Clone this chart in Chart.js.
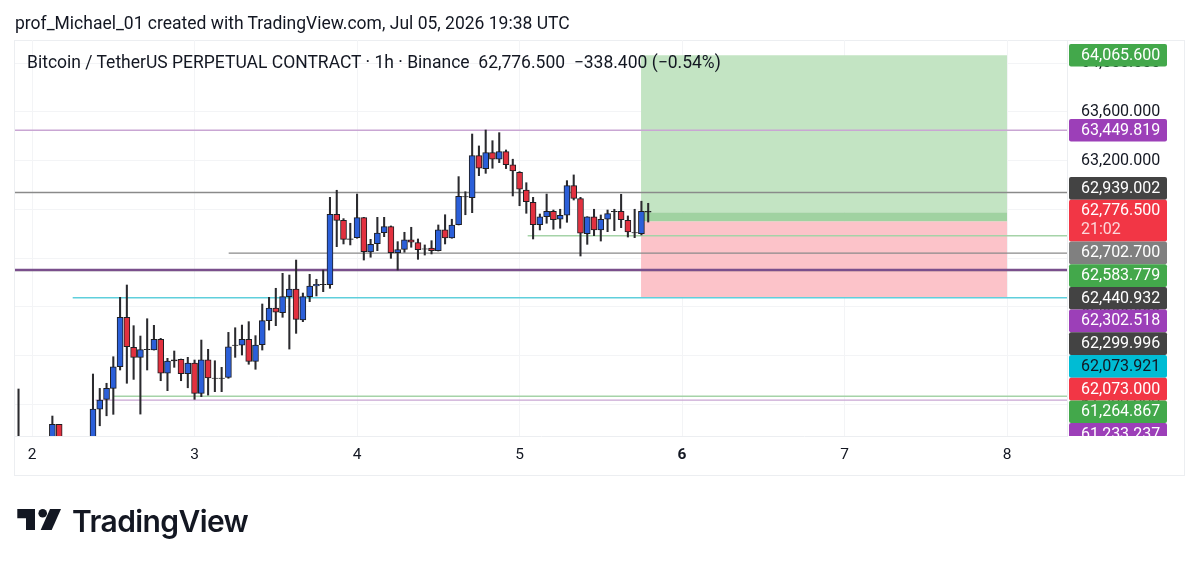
<!DOCTYPE html>
<html>
<head>
<meta charset="utf-8">
<title>BTCUSDT.P 1h</title>
<script src="https://cdn.jsdelivr.net/npm/chart.js@4"></script>
<style>
  html, body { margin: 0; padding: 0; background: #fff; overflow: hidden; }
  #stage { position: relative; width: 1200px; height: 564px; font-family: Roboto, sans-serif; color: #131722; }
  #chart { position: absolute; left: 0; top: 0; }
  .txt { position: absolute; white-space: pre; font-size: 17.5px; line-height: 20px; }
  #frame { position: absolute; left: 14px; top: 40px; width: 1171px; height: 436px; border: 1px solid #eceef1; box-sizing: border-box; }
  #brand { left: 72px; top: 502px; font: 600 30px/38px Inter, Roboto, sans-serif; letter-spacing: -0.6px; color: #131722; }
</style>
</head>
<body>
<div id="stage">
  <div id="frame"></div>
  <canvas id="chart" width="1200" height="564"></canvas>
  <div class="txt" style="left:15px;top:13px">prof_Michael_01 created with TradingView.com, Jul 05, 2026 19:38 UTC</div>
  <div class="txt" style="left:27px;top:52px">Bitcoin / TetherUS PERPETUAL CONTRACT · 1h · Binance  62,776.500  −338.400 (−0.54%)</div>
  <svg style="position:absolute;left:17px;top:508px" width="46" height="25" viewBox="0 0 46 25">
    <path d="M0.3 1H18V22H9V10.3H0.3z" fill="#131722"/>
    <circle cx="25.7" cy="5.3" r="4.3" fill="#131722"/>
    <path d="M33 1H44L34.7 22H23.7z" fill="#131722"/>
  </svg>
  <div class="txt" id="brand">TradingView</div>
</div>
<script>
// hourly candles, first one is 2 hours before day 2 00:00
const firstHour = -2;
const opens = [60700,60720,60710,60730,60740,60850,61035,60800,60780,60760,60790,60890,61160,61240,61330,61508,61914,61667,61585,61648,61645,61733,61454,61555,61569,61450,61538,61289,61565,61415,61411,61421,61682,61684,61733,61552,61689,61886,61990,61952,62083,62146,61892,62083,62171,62185,62181,62760,62710,62554,62568,62732,62450,62518,62609,62658,62444,62472,62549,62527,62477,62483,62461,62633,62565,62674,62902,62896,63241,63135,63266,63212,63274,63165,63105,62959,62858,62674,62740,62784,62719,62752,62995,62888,62600,62738,62631,62719,62781,62784,62710,62606,62600,62784];
const highs = [61325,60780,60770,60790,60800,61103,61035,60860,60840,60830,60850,61448,61330,61372,61590,62078,62179,61845,61760,61902,61848,61741,61577,61637,61571,61585,61563,61727,61651,61557,61503,61790,61828,61850,61878,61763,62023,62078,62152,62275,62261,62384,62113,62267,62226,62302,62899,62957,62724,62686,62926,62735,62554,62735,62735,62664,62535,62612,62653,62557,62508,62543,62672,62756,62719,63069,62945,63419,63321,63452,63364,63430,63288,63212,63110,63019,62899,62762,62926,62795,62801,63036,63083,62899,62740,62801,62754,62795,62801,62924,62746,62801,62867,62850];
const lows = [60650,60660,60650,60670,60690,60800,60800,60750,60720,60700,60730,60850,61023,61105,61117,61481,61372,61404,61119,61481,61645,61393,61311,61503,61393,61335,61240,61262,61275,61303,61303,61413,61585,61604,61528,61487,61645,61809,61845,61914,61653,61782,61878,62042,62089,62124,62152,62494,62516,62508,62563,62384,62407,62461,62576,62398,62302,62448,62489,62390,62425,62434,62458,62516,62563,62672,62756,62773,63077,63096,63138,63184,63135,62910,62830,62768,62557,62631,62686,62637,62645,62694,62877,62417,62513,62584,62540,62617,62625,62650,62573,62568,62590,62696];
const closes = [60720,60710,60730,60740,60760,61035,60860,60780,60760,60790,60850,61160,61234,61330,61508,61914,61672,61585,61648,61651,61733,61454,61555,61565,61450,61538,61289,61565,61415,61411,61415,61672,61685,61733,61552,61686,61886,61990,61955,62083,62146,61897,62083,62171,62185,62182,62760,62710,62554,62559,62732,62453,62513,62606,62658,62444,62469,62549,62530,62469,62474,62461,62633,62565,62672,62908,62905,63241,63138,63266,63212,63274,63167,63115,62965,62863,62674,62738,62784,62715,62752,62995,62891,62604,62738,62631,62719,62765,62785,62715,62614,62609,62784,62776.5];

// day numbers on the time axis, price ticks
const dayTicks = [2, 3, 4, 5, 6, 7, 8];
const priceTicks = [64000, 63600, 63200, 62800, 62400, 62000, 61600, 61200];

// position box: opens at day 5.75 and runs until day 8
const boxStart = 5.7477;
const boxEnd = 8;
const takeProfit = 64065.6;
const entryPrice = 62702.7;
const stopLoss = 62073;
const lastPrice = 62776.5;

// drawn levels
const levelPrices = [63449.819, 62939.002, 62583.779, 62440.932, 62302.518, 62299.996, 62073.921, 61264.867, 61233.237];
const levelStarts = [1.895, 1.895, 5.05, 3.21, 1.895, 1.895, 2.25, 2.5, 2.39];
const levelColors = ['#c9a6d3', '#8a8a8a', '#a5d3a8', '#8a8a8a', '#7a4f8c', '#5c4a66', '#5fcfdc', '#a5d3a8', '#c9a6d3'];

// price tags on the right
const tagPrices = ['64,065.600', '63,449.819', '62,939.002', '62,776.500', '62,702.700', '62,583.779', '62,440.932', '62,302.518', '62,299.996', '62,073.921', '62,073.000', '61,264.867', '61,233.237'];
const tagColors = ['#43a84b', '#9c3fb8', '#434343', '#f23645', '#808080', '#43a84b', '#434343', '#9c3fb8', '#434343', '#00bcd4', '#f23645', '#43a84b', '#9c3fb8'];
const countdown = '21:02';

const fmtPrice = v => v.toLocaleString('en-US', { minimumFractionDigits: 3, maximumFractionDigits: 3 });
const dayX = i => 2 + (firstHour + i) / 24;

const wicks = highs.map((h, i) => ({ x: dayX(i), y: [lows[i], h] }));
const bodies = opens.map((o, i) => ({ x: dayX(i), y: [o, closes[i]] }));
const bodyColor = opens.map((o, i) => {
  if (Math.abs(closes[i] - o) < 12) return '#1a1a1a';
  return closes[i] > o ? '#2b5fd9' : '#e2313f';
});

const boxBand = (top, bottom, color) => ({
  type: 'line',
  data: [{ x: boxStart, y: top }, { x: boxEnd, y: top }],
  borderWidth: 0,
  pointRadius: 0,
  fill: { value: bottom },
  backgroundColor: color,
  order: 5
});

const levelSets = levelPrices.map((p, i) => ({
  type: 'line',
  data: [{ x: levelStarts[i], y: p }, { x: 8.369, y: p }],
  borderColor: levelColors[i],
  borderWidth: i === 4 || i === 5 ? 2.2 : 1.4,
  pointRadius: 0,
  order: 3
}));

// price tags, the upper two sit on their price, the rest are stacked like TV does
const priceTags = {
  id: 'priceTags',
  afterDraw(chart) {
    const { ctx, scales } = chart;
    const h = 22.7;
    ctx.save();
    ctx.beginPath();
    ctx.rect(1068, 40, 116, 396);
    ctx.clip();
    ctx.font = '16px Roboto';
    ctx.textBaseline = 'middle';
    let y = 177;
    tagPrices.forEach((txt, i) => {
      let top, tall = h;
      if (i < 2) {
        top = scales.y.getPixelForValue(parseFloat(txt.replace(',', ''))) - h / 2;
      } else {
        top = y;
        if (i === 3) tall = 41.8;
        y += tall;
      }
      ctx.fillStyle = tagColors[i];
      ctx.beginPath();
      ctx.roundRect(1069, top, 98, tall, 2);
      ctx.fill();
      ctx.fillStyle = tagColors[i] === '#00bcd4' ? '#131722' : '#fff';
      ctx.fillText(txt, 1081, top + (i === 3 ? 11.5 : h / 2 + 0.5));
      if (i === 3) {
        ctx.fillStyle = 'rgba(255,255,255,0.8)';
        ctx.fillText(countdown, 1081, top + 30.5);
      }
    });
    ctx.restore();
  }
};

new Chart(document.getElementById('chart'), {
  data: {
    datasets: [
      { type: 'bar', data: bodies, grouped: false, barThickness: 6, backgroundColor: bodyColor, borderColor: '#1d1d22', borderWidth: 1, borderSkipped: false, order: 1 },
      { type: 'bar', data: wicks, grouped: false, barThickness: 1.4, backgroundColor: '#2a2a2e', borderWidth: 0, order: 2 },
      ...levelSets,
      boxBand(takeProfit, lastPrice, '#c3e4c3'),
      boxBand(lastPrice, entryPrice, '#a0d2a1'),
      boxBand(entryPrice, stopLoss, '#fcc3c9')
    ]
  },
  plugins: [priceTags],
  options: {
    responsive: false,
    animation: false,
    devicePixelRatio: 1,
    layout: { padding: { left: 15, top: 40 } },
    plugins: { legend: { display: false }, tooltip: { enabled: false } },
    scales: {
      x: {
        type: 'linear',
        offset: false,
        min: 1.895,
        max: 8.369,
        afterBuildTicks: s => { s.ticks = dayTicks.map(v => ({ value: v })); },
        afterFit: s => { s.height = 128; },
        grid: { color: '#f3f4f6', drawTicks: false, offset: false },
        border: { color: '#eceef1' },
        ticks: {
          maxRotation: 0,
          padding: 10,
          autoSkip: false,
          color: '#131722',
          font: c => ({ family: 'Roboto', size: 15.5, weight: c.tick && c.tick.value === 6 ? 'bold' : 'normal' }),
          callback: v => String(v)
        }
      },
      y: {
        position: 'right',
        min: 60939,
        max: 64191,
        afterBuildTicks: s => { s.ticks = priceTicks.map(v => ({ value: v })); },
        afterFit: s => { s.width = 133; },
        grid: { color: '#f3f4f6', drawTicks: false },
        border: { color: '#eceef1' },
        ticks: {
          padding: 14,
          autoSkip: false,
          color: '#131722',
          font: { family: 'Roboto', size: 16 },
          callback: v => fmtPrice(v)
        }
      }
    }
  }
});
</script>
</body>
</html>
